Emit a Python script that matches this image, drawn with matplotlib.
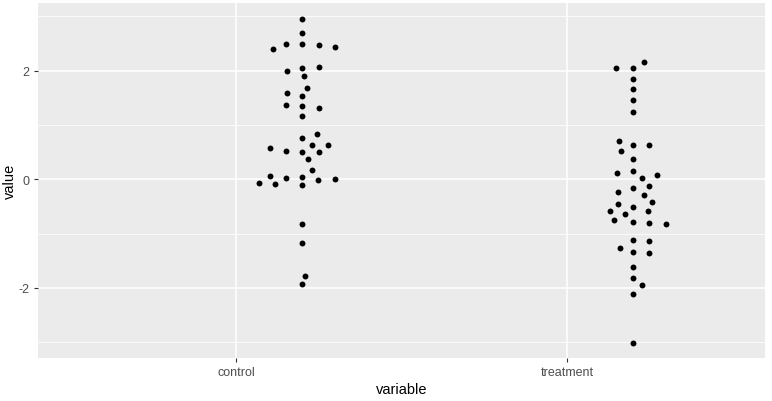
import matplotlib.pyplot as plt
import numpy as np

plt.rcParams['font.family'] = ['Liberation Sans', 'DejaVu Sans']
plt.rcParams['axes.unicode_minus'] = False

categories = ["control", "treatment"]

# horizontal offset from the category centre, and value
control_dx = [0.199, 0.199, 0.151, 0.199, 0.251, 0.299, 0.112, 0.154, 0.199, 0.251,
              0.205, 0.215, 0.154, 0.199, 0.151, 0.199, 0.251, 0.199, 0.245, 0.199,
              0.230, 0.278, 0.103, 0.151, 0.199, 0.251, 0.218, 0.230, 0.103, 0.151,
              0.199, 0.299, 0.248, 0.069, 0.118, 0.199, 0.199, 0.199, 0.208, 0.199]
control_val = [2.947, 2.689, 2.492, 2.492, 2.468, 2.431, 2.394, 1.994, 2.044, 2.063,
               1.897, 1.676, 1.584, 1.529, 1.363, 1.344, 1.308, 1.160, 0.829, 0.755,
               0.626, 0.626, 0.571, 0.516, 0.497, 0.497, 0.368, 0.166, 0.055, 0.018,
               0.037, 0.000, -0.018, -0.074, -0.092, -0.110, -0.829, -1.179, -1.786, -1.934]

treatment_dx = [0.233, 0.148, 0.199, 0.199, 0.199, 0.199, 0.199, 0.157, 0.199, 0.248,
                0.163, 0.199, 0.151, 0.199, 0.224, 0.272, 0.199, 0.248, 0.154, 0.230,
                0.257, 0.154, 0.199, 0.130, 0.245, 0.175, 0.142, 0.199, 0.248, 0.299,
                0.199, 0.248, 0.160, 0.199, 0.248, 0.199, 0.199, 0.224, 0.199, 0.199]
treatment_val = [2.155, 2.044, 2.044, 1.842, 1.657, 1.455, 1.234, 0.700, 0.626, 0.626,
                 0.516, 0.368, 0.110, 0.147, 0.018, 0.074, -0.166, -0.129, -0.239, -0.295,
                 -0.424, -0.460, -0.516, -0.589, -0.589, -0.645, -0.755, -0.792, -0.810, -0.829,
                 -1.123, -1.142, -1.271, -1.344, -1.363, -1.621, -1.823, -1.952, -2.118, -3.020]

fig = plt.figure(figsize=(7.72, 4.02), dpi=100)
ax = fig.add_axes([38 / 772, 43 / 402, 727 / 772, 355 / 402])
ax.set_facecolor('#EBEBEB')

xs = np.concatenate([1 + np.array(control_dx), 2 + np.array(treatment_dx)])
ys = np.array(control_val + treatment_val)
ax.scatter(xs, ys, s=18, color='black', zorder=3, linewidths=0)

ax.set_xlim(0.401, 2.597)
ax.set_ylim(-3.29, 3.247)
ax.set_xticks([1, 2])
ax.set_xticklabels(categories)
ax.set_yticks([-2, 0, 2])
ax.set_yticks([-3, -1, 1, 3], minor=True)

ax.grid(True, which='major', color='white', linewidth=1.1)
ax.grid(True, which='minor', axis='y', color='white', linewidth=0.55)
ax.set_axisbelow(True)
for s in ax.spines.values():
    s.set_visible(False)

ax.tick_params(which='major', length=3, width=0.8, color='#333333',
               labelsize=9, labelcolor='#4D4D4D', pad=3)
ax.tick_params(which='minor', length=0)
ax.set_xlabel('variable', fontsize=10.5, labelpad=3)
ax.set_ylabel('value', fontsize=10.5)
ax.yaxis.set_label_coords(-0.029, 0.5)

fig.savefig('out.png', dpi=100)
